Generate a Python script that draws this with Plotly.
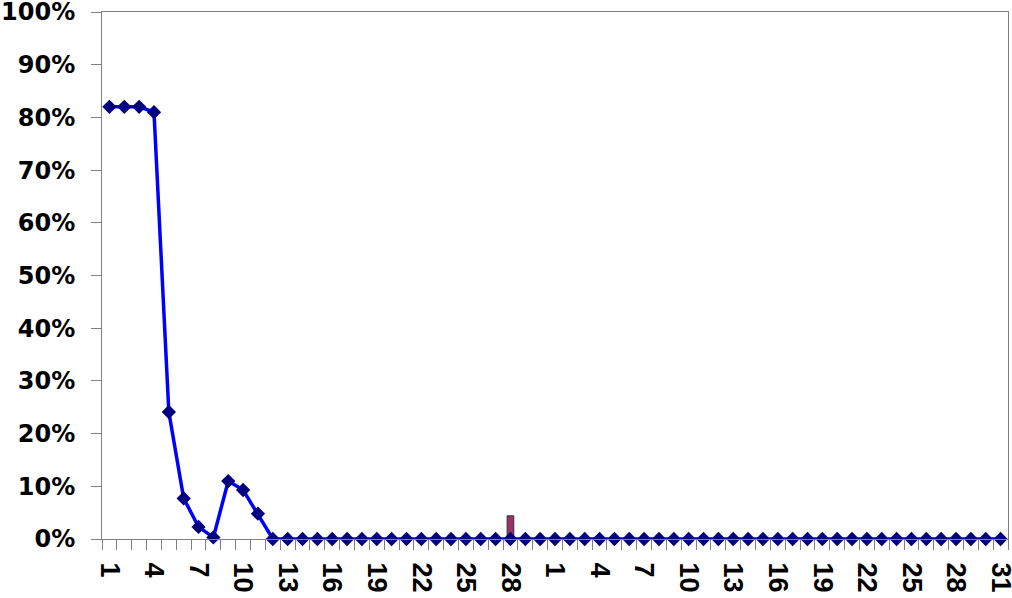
import plotly.graph_objects as go

# day labels: a 30-day month followed by a 31-day month
days = [1, 2, 3, 4, 5, 6, 7, 8, 9, 10, 11, 12, 13, 14, 15, 16, 17, 18, 19, 20,
        21, 22, 23, 24, 25, 26, 27, 28, 29, 30,
        1, 2, 3, 4, 5, 6, 7, 8, 9, 10, 11, 12, 13, 14, 15, 16, 17, 18, 19, 20,
        21, 22, 23, 24, 25, 26, 27, 28, 29, 30, 31]

# line series (share)
line_vals = [0.82, 0.82, 0.82, 0.81, 0.241, 0.077, 0.023, 0.003, 0.11, 0.093,
             0.048, 0.0, 0.0, 0.0, 0.0, 0.0, 0.0, 0.0, 0.0, 0.0,
             0.0, 0.0, 0.0, 0.0, 0.0, 0.0, 0.0, 0.0, 0.0, 0.0,
             0.0, 0.0, 0.0, 0.0, 0.0, 0.0, 0.0, 0.0, 0.0, 0.0,
             0.0, 0.0, 0.0, 0.0, 0.0, 0.0, 0.0, 0.0, 0.0, 0.0,
             0.0, 0.0, 0.0, 0.0, 0.0, 0.0, 0.0, 0.0, 0.0, 0.0, 0.0]

# bar series: a single value on day 28 of the first month
bar_vals = [None] * 27 + [0.044] + [None] * 33

y_ticks = [0, 0.1, 0.2, 0.3, 0.4, 0.5, 0.6, 0.7, 0.8, 0.9, 1.0]

pos = list(range(len(days)))
label_pos = pos[::3]
label_txt = [str(days[i]) for i in label_pos]

fig = go.Figure()
fig.add_bar(x=pos, y=bar_vals, width=0.45,
            marker=dict(color='#993366', line=dict(color='#333333', width=1)))
fig.add_scatter(x=pos, y=line_vals, mode='lines+markers', cliponaxis=False,
                line=dict(color='#0000FF', width=3.5),
                marker=dict(symbol='diamond', size=11, color='#000080'))

fig.update_layout(
    width=1012, height=598,
    margin=dict(l=102, r=4, t=12, b=59),
    plot_bgcolor='white', paper_bgcolor='white',
    showlegend=False,
)
fig.update_xaxes(
    range=[-0.5, len(days) - 0.5], automargin=False,
    tickvals=label_pos, ticktext=label_txt,
    tickangle=90, ticks='', ticklabelstandoff=17, ticklabeloverflow='allow',
    tickfont=dict(family='Liberation Sans', size=27, color='black', weight='bold'),
    minor=dict(ticks='outside', ticklen=10, tick0=-0.5, dtick=1, tickcolor='#808080'),
    showline=True, linecolor='#808080', linewidth=1, mirror=True,
    showgrid=False, zeroline=False,
)
fig.update_yaxes(
    range=[0, 1], automargin=False, tickvals=y_ticks, tickformat='.0%',
    ticks='outside', ticklen=10, tickcolor='#808080', ticklabelstandoff=11,
    ticklabeloverflow='allow',
    tickfont=dict(family='DejaVu Sans', size=24, color='black', weight='bold'),
    showline=True, linecolor='#808080', linewidth=1, mirror=True,
    showgrid=False, zeroline=False,
)

# drop the default body margin so the chart sits at the page corner
fig.write_html('out.html', config={'displayModeBar': False},
               post_script="document.body.style.margin='0';")
